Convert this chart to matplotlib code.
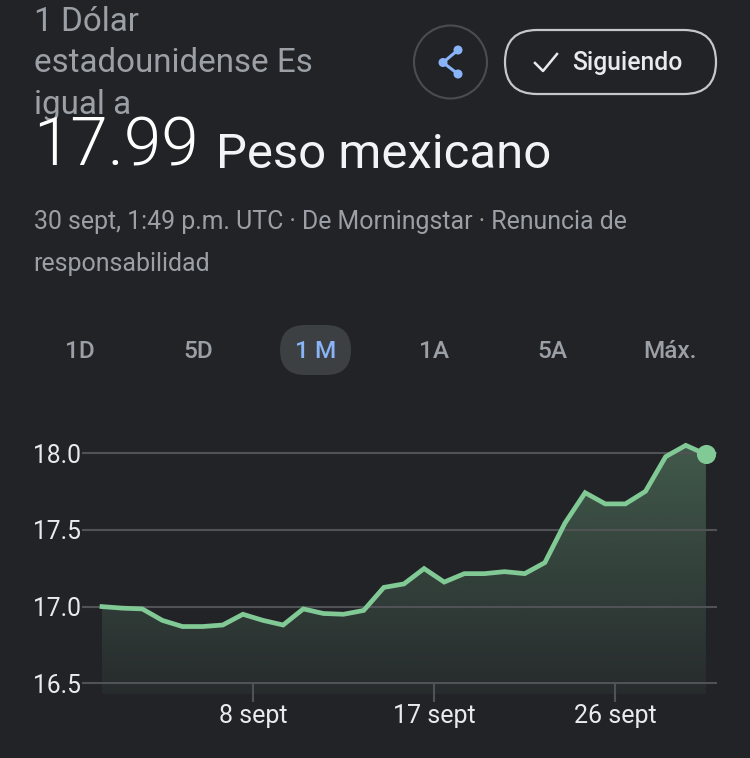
#!/usr/bin/env python3
"""USD to MXN one month quote card, dark theme."""

import numpy as np
import matplotlib
matplotlib.use('Agg')
import matplotlib.pyplot as plt
from matplotlib.patches import Circle, FancyBboxPatch, Polygon

plt.rcParams['font.family'] = ['Roboto', 'DejaVu Sans']

# Data
days = [0.5, 1.5, 2.5, 3.5, 4.5, 5.5, 6.5, 7.5, 8.5, 9.5, 10.5,
        11.5, 12.5, 13.5, 14.5, 15.5, 16.5, 17.5, 18.5, 19.5, 20.5,
        21.5, 22.5, 23.5, 24.5, 25.5, 26.5, 27.5, 28.5, 29.5, 30.5]
rates = [17.00, 16.99, 16.985, 16.91, 16.87, 16.87, 16.88, 16.95, 16.91, 16.88, 16.985,
         16.955, 16.95, 16.975, 17.125, 17.148, 17.248, 17.16, 17.215, 17.215, 17.228,
         17.215, 17.287, 17.545, 17.743, 17.67, 17.67, 17.752, 17.978, 18.052, 17.993]
y_ticks = [16.5, 17.0, 17.5, 18.0]
x_ticks = [8, 17, 26]
x_labels = ['8 sept', '17 sept', '26 sept']
ranges = ['1D', '5D', '1 M', '1A', '5A', 'Máx.']
range_x = [80, 198, 316, 434, 552, 670]

BG = '#222327'
GREEN = '#81c995'
GRID = '#505256'
GREY = '#9aa0a6'
LIGHT = '#e8eaed'
BLUE = '#8ab4f8'

W, H = 750, 758
fig = plt.figure(figsize=(W / 100, H / 100), dpi=100, facecolor=BG)

# Full-size overlay in pixel coordinates for the page furniture
ui = fig.add_axes([0, 0, 1, 1])
ui.set_xlim(0, W)
ui.set_ylim(H, 0)
ui.axis('off')

ui.text(33.5, 22, '1 Dólar', color=GREY, fontsize=23.9, va='center')
ui.text(33.5, 63, 'estadounidense Es', color=GREY, fontsize=23.9, va='center')
ui.text(33.5, 105, 'igual a', color=GREY, fontsize=23.9, va='center')
ui.text(33, 166, '17.99', color='white', fontsize=48.5, va='baseline', fontweight=300)
ui.text(216, 168, 'Peso mexicano', color='#f1f3f4', fontsize=35.4, va='baseline')
ui.text(33.5, 222, '30 sept, 1:49 p.m. UTC · De Morningstar · Renuncia de', color=GREY,
        fontsize=17.95, va='center')
ui.text(33.5, 264, 'responsabilidad', color=GREY, fontsize=17.95, va='center')

# Share button
ui.add_patch(Circle((450.5, 62), 36.5, fill=False, edgecolor='#4a4c50', linewidth=1.5))
ui.plot([458, 443, 458], [50, 62.5, 74], color=BLUE, linewidth=2.2)
for cx, cy in [(458, 50), (443, 62.5), (458, 74)]:
    ui.add_patch(Circle((cx, cy), 4.5, facecolor=BLUE, edgecolor='none'))

# Following pill
ui.add_patch(FancyBboxPatch((505, 30), 211, 64, boxstyle='round,pad=0,rounding_size=32',
                            fill=False, edgecolor='#c4c7cb', linewidth=1.6))
ui.plot([535, 543, 557], [63, 71, 54], color=LIGHT, linewidth=1.8)
ui.text(572, 63, 'Siguiendo', color=LIGHT, fontsize=17.8, va='center', fontweight='medium')

# Range selector
ui.add_patch(FancyBboxPatch((280, 325), 71, 50, boxstyle='round,pad=0,rounding_size=25',
                            facecolor='#3c4043', edgecolor='none'))
for label, x in zip(ranges, range_x):
    active = label == '1 M'
    ui.text(x, 352, label, color=BLUE if active else GREY, fontsize=17.6, ha='center', va='center',
            fontweight='medium')

# Chart axes, placed so data lands on the same pixels as the screenshot
px_left, px_right, px_top, px_bottom = 82, 717, 440, 694
ax = fig.add_axes([px_left / W, 1 - px_bottom / H, (px_right - px_left) / W, (px_bottom - px_top) / H])
ax.patch.set_alpha(0)
px_per_day = 20.13
px_per_unit = 153.3
x_range = (0.5 + (px_left - 102) / px_per_day, 0.5 + (px_right - 102) / px_per_day)
y_range = (18.0 - (px_bottom - 453.3) / px_per_unit, 18.0 + (453.3 - px_top) / px_per_unit)
for spine in ax.spines.values():
    spine.set_visible(False)

# Gradient area under the line
y_floor = y_range[0]
grad = np.zeros((256, 1, 4))
grad[..., :3] = matplotlib.colors.to_rgb(GREEN)
grad[..., 3] = np.linspace(0.33, 0.05, 256)[:, None]
im = ax.imshow(grad, extent=[days[0], days[-1], y_floor, max(rates)], aspect='auto',
               origin='upper', zorder=1)
area = Polygon(list(zip(days, rates)) + [(days[-1], y_floor), (days[0], y_floor)],
               transform=ax.transData, facecolor='none', edgecolor='none')
ax.add_patch(area)
im.set_clip_path(area)

for v in y_ticks:
    ax.axhline(v, color=GRID, linewidth=1.5, zorder=2)
ax.plot(days, rates, color=GREEN, linewidth=3.4, solid_joinstyle='miter', zorder=3)
ax.scatter(days[-1], rates[-1], s=190, color=GREEN, zorder=4, linewidths=0, clip_on=False)

ax.set_yticks(y_ticks, [f'{v:.1f}' for v in y_ticks])
ax.set_xticks(x_ticks, x_labels)
ax.tick_params(axis='y', length=0, pad=1, labelsize=17.7, labelcolor=LIGHT)
ax.tick_params(axis='x', length=0, labelsize=18, labelcolor=LIGHT, pad=7.5)
# Date ticks hang a little below the axes
tick_end = y_ticks[0] - 19 / px_per_unit
ax.vlines(x_ticks, tick_end, y_ticks[0], color=GRID, linewidth=1.5, zorder=2, clip_on=False)
ax.set_xlim(x_range)
ax.set_ylim(y_range)

fig.savefig('out.png', dpi=100, facecolor=BG)
